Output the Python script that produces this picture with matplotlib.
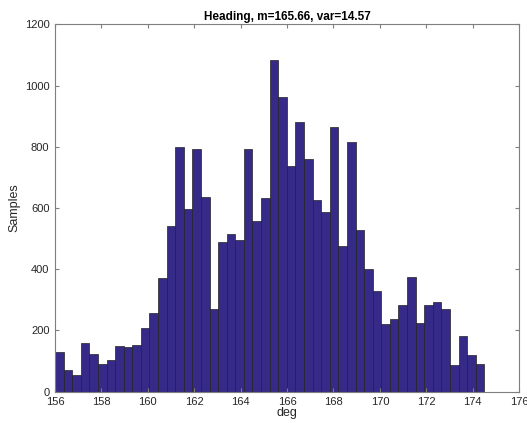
import numpy as np
import matplotlib.pyplot as plt

# Histogram of heading samples (counts)
bin_start = 156.0
bin_width = 0.37
counts = [130, 70, 55, 158, 122, 90, 105, 150, 145, 154,
          208, 256, 371, 541, 800, 597, 794, 637, 270, 489,
          514, 495, 794, 559, 632, 1082, 961, 736, 880, 760,
          626, 586, 866, 476, 816, 528, 400, 329, 220, 237,
          282, 374, 224, 282, 294, 270, 86, 181, 121, 90]
mean_deg = 165.66
var_deg = 14.57

plt.rcParams['font.family'] = ['Liberation Sans', 'DejaVu Sans']

fig = plt.figure(figsize=(5.27, 4.23), dpi=100)
ax = fig.add_axes([0.1044, 0.074, 0.8806, 0.8686])

edges = bin_start + bin_width * np.arange(len(counts))
ax.bar(edges, counts, width=bin_width, align='edge',
       color='#352a87', edgecolor='#222222', linewidth=0.5)

ax.set_xlim(156, 176)
ax.set_ylim(0, 1200)
ax.set_xticks(np.arange(156, 177, 2))
ax.set_yticks(np.arange(0, 1201, 200))

for s in ax.spines.values():
    s.set_color('#7f7f7f')
    s.set_linewidth(0.8)
ax.tick_params(direction='in', top=True, right=True, length=3,
               color='#7f7f7f', labelsize=8, labelcolor='#262626')
ax.tick_params(axis='x', pad=4)
ax.tick_params(axis='y', pad=4)

ax.set_title(f'Heading, m={mean_deg:.2f}, var={var_deg:.2f}',
             fontsize=8.5, fontweight='bold', pad=3)
ax.set_xlabel('deg', fontsize=9, color='#262626', labelpad=0)
ax.set_ylabel('Samples', fontsize=9, color='#262626', labelpad=3)

plt.savefig('out.png', dpi=100)
